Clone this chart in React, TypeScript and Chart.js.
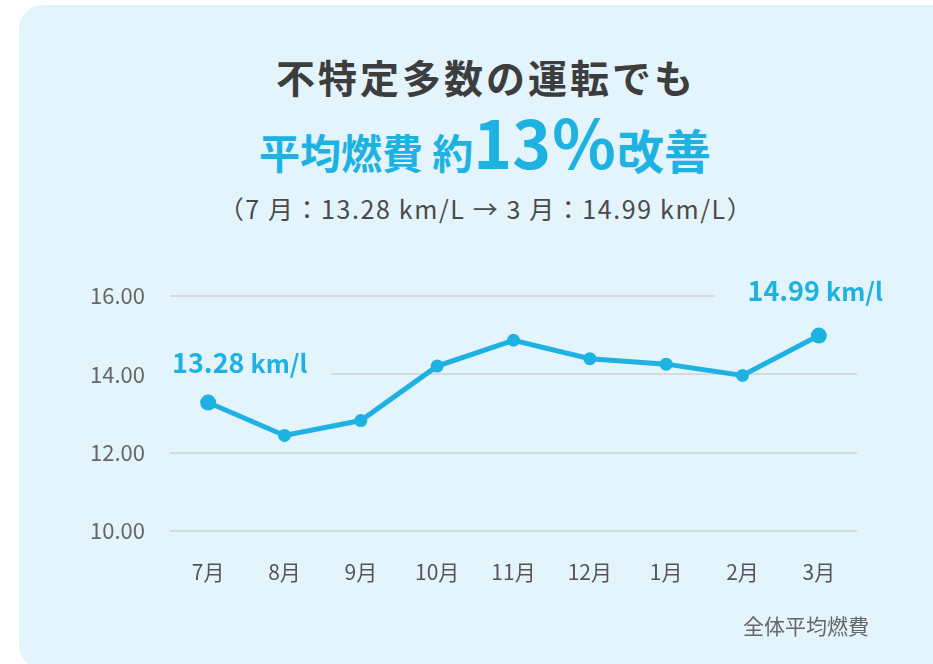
import React, { useEffect, useRef } from "react";
import { Chart, registerables } from "chart.js";

Chart.register(...registerables);

const months = ["7月", "8月", "9月", "10月", "11月", "12月", "1月", "2月", "3月"];
const fuelEconomy = [13.28, 12.44, 12.82, 14.21, 14.87, 14.4, 14.26, 13.97, 14.99];
const yTicks = [10, 12, 14, 16];
const startLabel = "13.28";
const endLabel = "14.99";
const unitLabel = "km/l";

const CYAN = "#1eb2e3";
const PANEL = "#e3f4fd";
const JP = '"Noto Sans CJK JP", "Noto Sans", sans-serif';

const labelPlugin = {
  id: "endLabels",
  afterDraw(chart: any) {
    const ctx = chart.ctx;
    const meta = chart.getDatasetMeta(0);
    const area = chart.chartArea;
    const first = meta.data[0];
    const last = meta.data[meta.data.length - 1];
    const drawLabel = (num: string, x: number, y: number, align: "left" | "right", boxL: number, boxR: number) => {
      ctx.save();
      ctx.font = `bold 27px ${JP}`;
      const numW = ctx.measureText(num + " ").width;
      ctx.font = `bold 25px ${JP}`;
      const unitW = ctx.measureText(unitLabel).width;
      const total = numW + unitW;
      const left = align === "left" ? x : x - total;
      ctx.fillStyle = PANEL;
      ctx.fillRect(left - boxL, y - 20, total + boxL + boxR, 40);
      ctx.fillStyle = CYAN;
      ctx.textBaseline = "middle";
      ctx.textAlign = "left";
      ctx.font = `bold 27px ${JP}`;
      ctx.fillText(num + " ", left, y);
      ctx.font = `bold 25px ${JP}`;
      ctx.fillText(unitLabel, left + numW, y + 1);
      ctx.restore();
    };
    drawLabel(startLabel, area.left + 2, first.y - 40, "left", 2, 24);
    drawLabel(endLabel, last.x + 64, last.y - 45, "right", 33, 8);
  },
};

function LineChart() {
  const ref = useRef<HTMLCanvasElement | null>(null);
  useEffect(() => {
    if (!ref.current) return;
    const chart = new Chart(ref.current, {
      type: "line",
      data: {
        labels: months,
        datasets: [
          {
            label: "全体平均燃費",
            data: fuelEconomy,
            borderColor: CYAN,
            backgroundColor: CYAN,
            borderWidth: 5,
            pointRadius: fuelEconomy.map((_, i) => (i === 0 || i === fuelEconomy.length - 1 ? 8 : 6.5)),
            pointBackgroundColor: CYAN,
            pointBorderWidth: 0,
            tension: 0,
            fill: false,
          },
        ],
      },
      options: {
        responsive: false,
        animation: false,
        layout: { padding: { top: 296, right: 76, left: 0, bottom: 0 } },
        plugins: { legend: { display: false }, tooltip: { enabled: false } },
        scales: {
          x: {
            offset: true,
            grid: { display: false },
            border: { display: false },
            ticks: { color: "#555", font: { family: JP, size: 21 }, padding: 20 },
            afterFit: (s: any) => {
              s.height = 133;
            },
          },
          y: {
            min: yTicks[0],
            max: yTicks[yTicks.length - 1],
            afterBuildTicks: (s: any) => {
              s.ticks = yTicks.map((v) => ({ value: v }));
            },
            ticks: {
              color: "#666",
              font: { family: JP, size: 22 },
              padding: 25,
              callback: (v: any) => Number(v).toFixed(2),
            },
            grid: { color: "#d6dadc", lineWidth: 2, drawTicks: false },
            border: { display: false },
            afterFit: (s: any) => {
              s.width = 170;
            },
          },
        },
      },
      plugins: [labelPlugin],
    });
    return () => chart.destroy();
  }, []);
  return (
    <canvas
      ref={ref}
      width={933}
      height={664}
      style={{ position: "absolute", left: 0, top: 0, width: 933, height: 664 }}
    />
  );
}

export default function App() {
  return (
    <div
      style={{
        position: "fixed",
        left: 0,
        top: 0,
        width: 933,
        height: 664,
        overflow: "hidden",
        background: "#fff",
        fontFamily: JP,
      }}
    >
      <div
        style={{
          position: "absolute",
          left: 19,
          top: 5,
          width: 940,
          height: 664,
          borderRadius: 24,
          background: PANEL,
        }}
      />
      <div
        style={{
          position: "absolute",
          left: 0,
          width: 972,
          top: 57,
          textAlign: "center",
          fontSize: 39,
          lineHeight: "38px",
          fontWeight: 700,
          letterSpacing: 3,
          color: "#3d3d3d",
          whiteSpace: "nowrap",
        }}
      >
        不特定多数の運転でも
      </div>
      <div
        style={{
          position: "absolute",
          left: 0,
          width: 970,
          top: 105,
          height: 70,
          textAlign: "center",
          lineHeight: "70px",
          fontWeight: 700,
          color: CYAN,
          whiteSpace: "nowrap",
        }}
      >
        <span style={{ fontSize: 41 }}>平均燃費 約</span>
        <span style={{ fontSize: 66 }}>13％</span>
        <span style={{ fontSize: 47 }}>改善</span>
      </div>
      <div
        style={{
          position: "absolute",
          left: 0,
          width: 972,
          top: 194,
          textAlign: "center",
          fontSize: 25,
          lineHeight: "28px",
          letterSpacing: 1.6,
          color: "#4a4a4a",
          whiteSpace: "nowrap",
        }}
      >
        （7 月：13.28 km/L → 3 月：14.99 km/L）
      </div>
      <LineChart />
      <div
        style={{
          position: "absolute",
          left: 743,
          top: 612,
          fontSize: 21,
          lineHeight: "26px",
          color: "#666",
          whiteSpace: "nowrap",
        }}
      >
        全体平均燃費
      </div>
    </div>
  );
}
